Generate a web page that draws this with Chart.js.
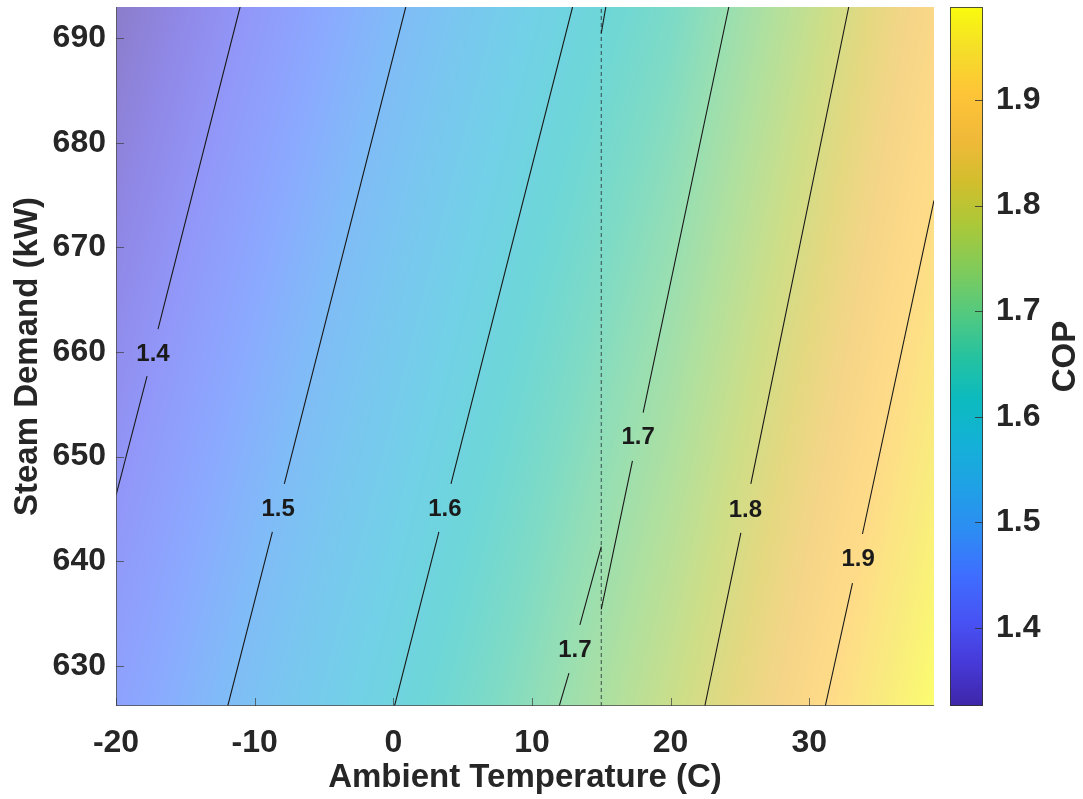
<!DOCTYPE html>
<html>
<head>
<meta charset="utf-8">
<script src="https://cdn.jsdelivr.net/npm/chart.js@4.4.1/dist/chart.umd.min.js"></script>
<style>
  html, body { margin: 0; padding: 0; background: #fff; }
</style>
</head>
<body>
<canvas id="copChart" width="1083" height="799"></canvas>
<script>
//axis ranges
var tMin = -20, tMax = 39;
var qMin = 626.15, qMax = 693;
var copMin = 1.326, copMax = 1.988;

var gridT = [-20, -15, -10, -5, 0, 5, 10, 15, 20, 25, 30, 35, 39];
var gridQ = [qMin, qMax];
var copAtQMin = [1.433, 1.474, 1.516, 1.558, 1.599, 1.641, 1.683, 1.728, 1.776, 1.829, 1.887, 1.945, 1.988];
var copAtQMax = [1.326, 1.367, 1.409, 1.451, 1.492, 1.534, 1.576, 1.615, 1.653, 1.709, 1.766, 1.830, 1.880];

//contour lines as [T, Q], null = break for the label
var c14 = [[-20, 646.3], [-17.76, 657.7], null, [-16.97, 662.2], [-11.05, 693]];
var c15 = [[-11.94, 626.15], [-8.72, 642.8], null, [-7.86, 647.4], [0.90, 693]];
var c16 = [[0.09, 626.15], [3.29, 642.8], null, [4.16, 647.4], [12.93, 693]];
var c16b = [[15.0, 690.5], [15.33, 693]];
var c17a = [[11.97, 626.15], [12.67, 629.3], null, [13.46, 633.9], [15.0, 641.4]];
var c17b = [[15.0, 635.4], [17.25, 649.6], null, [18.02, 654.2], [24.2, 693]];
var c18 = [[22.47, 626.15], [25.07, 642.7], null, [25.79, 647.4], [32.85, 693]];
var c19 = [[31.16, 626.15], [33.12, 637.9], null, [33.84, 642.6], [39, 674.5]];

//contour labels
var labelText = ['1.4', '1.5', '1.6', '1.7', '1.7', '1.8', '1.9'];
var labelT = [-17.33, -8.31, 3.72, 13.1, 17.66, 25.4, 33.53];
var labelQ = [659.8, 644.95, 644.95, 631.5, 651.8, 644.9, 640.2];

//dashed reference line
var refT = [15, 15];
var refQ = [qMin, qMax];

//colorbar ticks
var cbTicks = [1.4, 1.5, 1.6, 1.7, 1.8, 1.9];

//parula colormap stops [f, r, g, b]
var parulaStops = [
  [0.00, 62, 38, 168], [0.06, 70, 57, 215], [0.12, 72, 82, 244], [0.19, 62, 111, 255],
  [0.25, 45, 140, 243], [0.31, 32, 160, 230], [0.375, 20, 177, 215], [0.44, 12, 187, 190],
  [0.50, 38, 194, 160], [0.56, 82, 201, 128], [0.625, 128, 203, 90], [0.69, 172, 200, 56],
  [0.75, 210, 190, 45], [0.81, 240, 185, 57], [0.875, 254, 196, 56], [0.94, 245, 222, 40],
  [1.00, 249, 251, 14]
];
var fillAlpha = 0.6;
var fontFam = '"Liberation Sans", Arial, Helvetica, sans-serif';
var textCol = '#262626';

function parula(f) {
  if (f <= 0) return parulaStops[0].slice(1);
  if (f >= 1) return parulaStops[parulaStops.length - 1].slice(1);
  for (var i = 0; i < parulaStops.length - 1; i++) {
    var a = parulaStops[i], b = parulaStops[i + 1];
    if (f <= b[0]) {
      var u = (f - a[0]) / (b[0] - a[0]);
      return [a[1] + u * (b[1] - a[1]), a[2] + u * (b[2] - a[2]), a[3] + u * (b[3] - a[3])];
    }
  }
}

function toPts(arr) {
  return arr.map(function (p) { return p ? {x: p[0], y: p[1]} : {x: NaN, y: NaN}; });
}

function lineSet(arr) {
  return {
    data: toPts(arr),
    showLine: true,
    borderColor: '#1a1a1a',
    borderWidth: 1.1,
    pointRadius: 0,
    spanGaps: false
  };
}

var mapPlugin = {
  id: 'copMap',
  beforeDatasetsDraw: function (chart) {
    var ctx = chart.ctx, a = chart.chartArea, xs = chart.scales.x, ys = chart.scales.y;
    var w = Math.round(a.right - a.left), h = Math.round(a.bottom - a.top);
    var off = document.createElement('canvas');
    off.width = w; off.height = h;
    var octx = off.getContext('2d');
    var img = octx.createImageData(w, h);
    for (var i = 0; i < w; i++) {
      var t = xs.getValueForPixel(a.left + i + 0.5);
      var k = 0;
      while (k < gridT.length - 2 && t > gridT[k + 1]) k++;
      var u = (t - gridT[k]) / (gridT[k + 1] - gridT[k]);
      var lo = copAtQMin[k] + u * (copAtQMin[k + 1] - copAtQMin[k]);
      var hi = copAtQMax[k] + u * (copAtQMax[k + 1] - copAtQMax[k]);
      for (var j = 0; j < h; j++) {
        var q = ys.getValueForPixel(a.top + j + 0.5);
        var v = (q - gridQ[0]) / (gridQ[1] - gridQ[0]);
        var cop = lo + v * (hi - lo);
        var c = parula((cop - copMin) / (copMax - copMin));
        var idx = (j * w + i) * 4;
        img.data[idx] = 255 * (1 - fillAlpha) + c[0] * fillAlpha;
        img.data[idx + 1] = 255 * (1 - fillAlpha) + c[1] * fillAlpha;
        img.data[idx + 2] = 255 * (1 - fillAlpha) + c[2] * fillAlpha;
        img.data[idx + 3] = 255;
      }
    }
    octx.putImageData(img, 0, 0);
    ctx.drawImage(off, a.left, a.top);
  },
  afterDatasetsDraw: function (chart) {
    var ctx = chart.ctx, a = chart.chartArea, xs = chart.scales.x, ys = chart.scales.y, cs = chart.scales.cop;
    ctx.save();
    //contour labels
    ctx.font = 'bold 24px ' + fontFam;
    ctx.fillStyle = '#1a1a1a';
    ctx.textAlign = 'center';
    ctx.textBaseline = 'middle';
    for (var i = 0; i < labelText.length; i++) {
      ctx.fillText(labelText[i], xs.getPixelForValue(labelT[i]), ys.getPixelForValue(labelQ[i]));
    }
    //axis lines
    ctx.strokeStyle = 'rgba(80,80,80,0.8)';
    ctx.lineWidth = 1;
    ctx.beginPath();
    ctx.moveTo(a.left + 0.5, a.top);
    ctx.lineTo(a.left + 0.5, a.bottom - 0.5);
    ctx.lineTo(a.right, a.bottom - 0.5);
    ctx.stroke();
    //inward ticks
    ctx.strokeStyle = 'rgba(60,60,60,0.7)';
    ctx.beginPath();
    xs.ticks.forEach(function (tk) {
      var px = Math.round(xs.getPixelForValue(tk.value)) + 0.5;
      ctx.moveTo(px, a.bottom); ctx.lineTo(px, a.bottom - 8);
    });
    ys.ticks.forEach(function (tk) {
      var py = Math.round(ys.getPixelForValue(tk.value)) + 0.5;
      ctx.moveTo(a.left, py); ctx.lineTo(a.left + 8, py);
    });
    ctx.stroke();
    //colorbar
    var bx = cs.left + 16, bw = 33;
    var yTop = cs.getPixelForValue(copMax), yBot = cs.getPixelForValue(copMin);
    var grad = ctx.createLinearGradient(0, yBot, 0, yTop);
    parulaStops.forEach(function (s) {
      grad.addColorStop(s[0], 'rgb(' + s[1] + ',' + s[2] + ',' + s[3] + ')');
    });
    ctx.fillStyle = grad;
    ctx.fillRect(bx, yTop, bw, yBot - yTop);
    ctx.strokeStyle = 'rgba(50,50,50,0.85)';
    ctx.strokeRect(bx + 0.5, yTop + 0.5, bw - 1, yBot - yTop - 1);
    ctx.beginPath();
    cbTicks.forEach(function (v) {
      var py = Math.round(cs.getPixelForValue(v)) + 0.5;
      ctx.moveTo(bx + bw, py); ctx.lineTo(bx + bw - 8, py);
    });
    ctx.stroke();
    //colorbar title
    ctx.font = 'bold 33px ' + fontFam;
    ctx.fillStyle = textCol;
    ctx.translate(cs.left + 132, (yTop + yBot) / 2);
    ctx.rotate(-Math.PI / 2);
    ctx.textAlign = 'center';
    ctx.textBaseline = 'middle';
    ctx.fillText('COP', 0, 0);
    ctx.restore();
  }
};

var datasets = [c14, c15, c16, c16b, c17a, c17b, c18, c19].map(lineSet);
datasets.push({
  data: refT.map(function (t, i) { return {x: t, y: refQ[i]}; }),
  showLine: true,
  borderColor: 'rgba(40,50,60,0.85)',
  borderWidth: 1,
  borderDash: [4, 3],
  pointRadius: 0
});

var ctxC = document.getElementById('copChart').getContext('2d');
var copChart = new Chart(ctxC, {
  type: 'scatter',
  data: { datasets: datasets },
  options: {
    responsive: false,
    animation: false,
    devicePixelRatio: 1,
    layout: { padding: { top: 7, left: 0, right: 0, bottom: 0 } },
    plugins: { legend: { display: false }, tooltip: { enabled: false } },
    scales: {
      x: {
        type: 'linear', min: tMin, max: tMax,
        grid: { display: false, drawTicks: false },
        border: { display: false },
        ticks: { stepSize: 10, includeBounds: false, padding: 18, color: textCol,
                 font: { family: fontFam, size: 32, weight: 'bold' } },
        title: { display: true, text: 'Ambient Temperature (C)', color: textCol,
                 padding: { top: 0, bottom: 1 },
                 font: { family: fontFam, size: 33, weight: 'bold' } },
        afterFit: function (s) { s.height = 93; s.paddingLeft = 0; s.paddingRight = 0; }
      },
      y: {
        type: 'linear', min: qMin, max: qMax,
        grid: { display: false, drawTicks: false },
        border: { display: false },
        ticks: { stepSize: 10, includeBounds: false, padding: 10, color: textCol,
                 font: { family: fontFam, size: 32, weight: 'bold' } },
        title: { display: true, text: 'Steam Demand (kW)', color: textCol,
                 padding: { top: 8, bottom: 0 },
                 font: { family: fontFam, size: 33, weight: 'bold' } },
        afterFit: function (s) { s.width = 116; s.paddingTop = 0; s.paddingBottom = 0; }
      },
      cop: {
        type: 'linear', position: 'right', min: copMin, max: copMax,
        grid: { display: false, drawTicks: false },
        border: { display: false },
        ticks: { stepSize: 0.1, includeBounds: false, padding: 62, color: textCol,
                 callback: function (v) { return v.toFixed(1); },
                 font: { family: fontFam, size: 32, weight: 'bold' } },
        afterFit: function (s) { s.width = 149; s.paddingTop = 0; s.paddingBottom = 0; }
      }
    }
  },
  plugins: [mapPlugin]
});
</script>
</body>
</html>
